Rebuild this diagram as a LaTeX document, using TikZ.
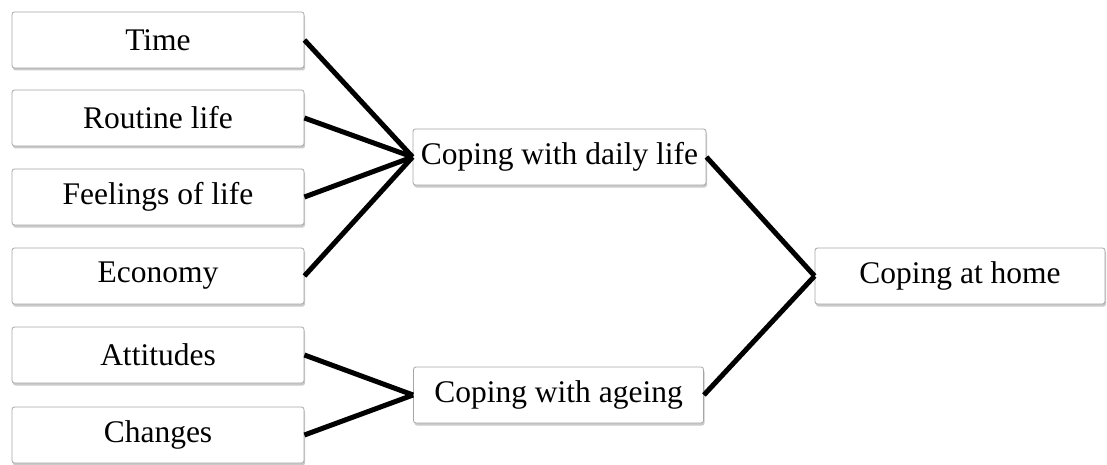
\documentclass[tikz,border=0pt]{standalone}
\usepackage{fontspec}
\setmainfont{Liberation Serif}
\usetikzlibrary{shadows}
\begin{document}
\begin{tikzpicture}[x=1pt,y=-1pt,
  box/.style={draw=black!35, line width=0.8pt, fill=white, rounded corners=2.5pt,
    minimum height=56pt, inner sep=0pt,
    font=\fontsize{31.5}{36}\selectfont,
    drop shadow={shadow xshift=1pt, shadow yshift=-2.5pt, opacity=0.35, fill=black!60}},
  conn/.style={line width=5pt, black}]
\useasboundingbox (0,0) rectangle (1107,465);
\node[box, minimum width=292pt] (time) at (158,40) {Time};
\node[box, minimum width=292pt] (routine) at (158,118) {Routine life};
\node[box, minimum width=292pt] (feel) at (158,197) {Feelings of life};
\node[box, minimum width=292pt] (econ) at (158,276) {Economy};
\node[box, minimum width=292pt] (att) at (158,355) {Attitudes};
\node[box, minimum width=292pt] (chg) at (158,435) {Changes};
\node[box, minimum width=293pt] (daily) at (559.5,157) {Coping with daily life};
\node[box, minimum width=290pt] (ageing) at (558.5,395) {Coping with ageing};
\node[box, minimum width=290pt] (home) at (960,276) {Coping at home};
\foreach \s in {time,routine,feel,econ} \draw[conn] (\s.east) -- (daily.west);
\foreach \s in {att,chg} \draw[conn] (\s.east) -- (ageing.west);
\draw[conn] (daily.east) -- (home.west);
\draw[conn] (ageing.east) -- (home.west);
\end{tikzpicture}
\end{document}
